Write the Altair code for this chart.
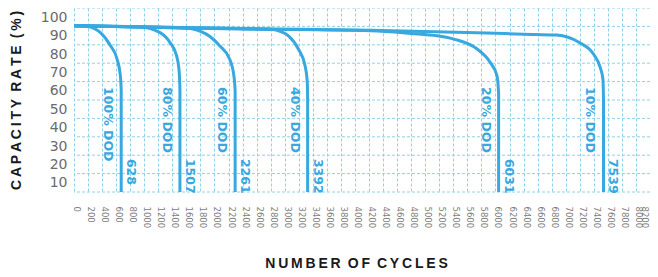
import altair as alt
import pandas as pd

BLUE = "#38a8e0"
GRID = "#8fd1e8"
THIN = "\u2009"
WORDGAP = "\u2002"

# ---- data ----
dod_labels = ["100% DOD", "80% DOD", "60% DOD", "40% DOD", "20% DOD", "10% DOD"]
cycle_labels = ["628", "1507", "2261", "3392", "6031", "7539"]

c100_x = [0, 184, 377, 519, 612, 660, 672, 672]
c100_y = [95.3, 95.0, 91.6, 84.5, 77.4, 68.2, 60, 5]

c80_x = [0, 943, 1225, 1367, 1460, 1498, 1508, 1508]
c80_y = [95.3, 94.7, 91.6, 86.2, 79.1, 70.0, 60, 5]

c60_x = [0, 943, 1601, 1884, 2073, 2215, 2276, 2294, 2294]
c60_y = [95.3, 94.7, 94.0, 90.8, 84.5, 77.3, 68.2, 60, 5]

c40_x = [0, 943, 1600, 2813, 2954, 3053, 3194, 3289, 3321, 3326, 3326]
c40_y = [95.3, 94.7, 94.3, 93.5, 92.0, 89.9, 82.7, 73.6, 64.6, 55, 5]

c20_x = [0, 943, 2346, 4226, 4790, 5173, 5409, 5738, 5926, 6021, 6045, 6045]
c20_y = [95.3, 94.7, 93.6, 92.6, 91.2, 89.9, 88.1, 82.7, 75.4, 68.2, 58, 5]

c10_x = [0, 943, 2346, 4226, 5738, 6400, 6870, 7194, 7392, 7491, 7529, 7538, 7538]
c10_y = [95.3, 94.8, 93.8, 92.9, 91.6, 90.8, 90.3, 86.2, 80.1, 72.7, 66.6, 55, 5]

x_ticks = list(range(0, 8201, 200))
y_labels = [10, 20, 30, 40, 50, 60, 70, 80, 90, 100]
y_grid = [5, 15, 25, 35, 45, 55, 65, 75, 85, 95, 105]

curves_x = [c100_x, c80_x, c60_x, c40_x, c20_x, c10_x]
curves_y = [c100_y, c80_y, c60_y, c40_y, c20_y, c10_y]

rows = []
for name, xs, ys in zip(dod_labels, curves_x, curves_y):
    for i, (xv, yv) in enumerate(zip(xs, ys)):
        rows.append({"curve": name, "idx": i, "cycles": xv, "cap": yv})
lines_df = pd.DataFrame(rows)

labels_df = pd.DataFrame({
    "dod": dod_labels,
    "num": cycle_labels,
    "xpos": [xs[-1] for xs in curves_x],
})
grid_df = pd.DataFrame({"g": y_grid})


def spaced(s):
    return WORDGAP.join(THIN.join(list(w)) for w in s.split(" "))


xscale = alt.Scale(domain=[0, 8200], nice=False, zero=False)
yscale = alt.Scale(domain=[5, 105], nice=False, zero=False)

xaxis = alt.Axis(
    values=x_ticks, format="d", grid=True, gridDash=[3, 2], gridColor=GRID,
    gridWidth=1, domain=False, ticks=False, labelAngle=90, labelAlign="left",
    labelBaseline="middle",
    labelOffset={"condition": {"test": "datum.value >= 8200", "value": -5.5},
                 "value": 2.5},
    labelPadding=14,
    labelFont="DejaVu Sans", labelFontSize=8.5, labelColor="#808080",
    labelOverlap=False, labelFlush=False, labelBound=False,
    title=spaced("NUMBER OF CYCLES"), titleFont="Liberation Sans",
    titleFontSize=14, titleFontWeight="bold", titleColor="#1a1a1a",
    titleX=282, titleY=71, titleAlign="center", titleBaseline="middle",
)
yaxis = alt.Axis(
    values=y_labels, format="d", grid=False, domain=False, ticks=False,
    labelPadding=7, labelFont="DejaVu Sans", labelFontSize=14,
    labelColor="#6b6b6b", labelOverlap=False, labelBound=False,
    title=spaced("CAPACITY RATE (%)"), titleFont="Liberation Sans",
    titleFontSize=14, titleFontWeight="bold", titleColor="#1a1a1a",
    titleX=-58, titleY=92, titleAngle=-90, titleAlign="center",
    titleBaseline="middle",
)

grid = alt.Chart(grid_df).mark_rule(
    color=GRID, strokeDash=[3, 2], strokeWidth=1
).encode(y=alt.Y("g:Q", scale=yscale, axis=yaxis))

lines = alt.Chart(lines_df).mark_line(
    color=BLUE, strokeWidth=3, interpolate="monotone"
).encode(
    x=alt.X("cycles:Q", scale=xscale, axis=xaxis),
    y=alt.Y("cap:Q", scale=yscale, axis=yaxis),
    detail="curve:N",
    order="idx:Q",
)

dod_text = alt.Chart(labels_df).mark_text(
    angle=90, align="left", baseline="middle", dy=13, color=BLUE,
    font="DejaVu Sans", fontSize=12.5, fontWeight="bold",
).encode(x=alt.X("xpos:Q", scale=xscale, axis=xaxis),
         y=alt.datum(62, scale=yscale, axis=yaxis), text="dod:N")

num_text = alt.Chart(labels_df).mark_text(
    angle=90, align="left", baseline="middle", dy=-10, color=BLUE,
    font="DejaVu Sans", fontSize=12.5, fontWeight="bold",
).encode(x=alt.X("xpos:Q", scale=xscale, axis=xaxis),
         y=alt.datum(23, scale=yscale, axis=yaxis), text="num:N")

chart = alt.layer(grid, lines, dod_text, num_text).properties(
    width=576, height=184,
    autosize=alt.AutoSizeParams(type="none"),
    padding={"left": 66, "top": 0, "right": 0, "bottom": 78},
).configure_view(stroke=None).configure_axis(labelOverlap=False)

chart.save("out.html", embed_options={"renderer": "svg", "actions": False})
